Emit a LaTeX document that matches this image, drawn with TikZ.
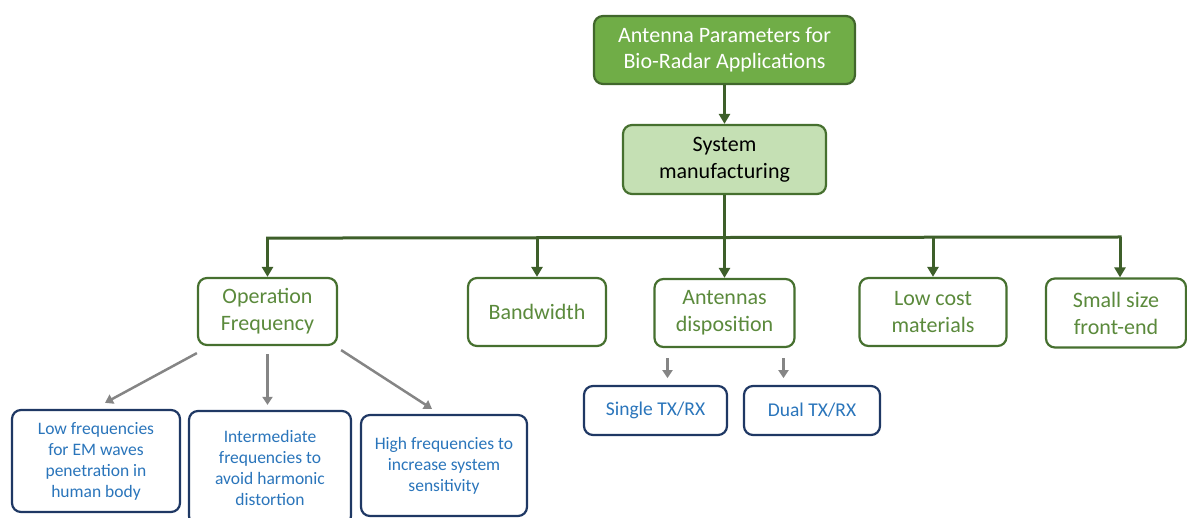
\documentclass[tikz,border=0pt]{standalone}
\usepackage{fontspec}
\setmainfont{Carlito}
\usetikzlibrary{arrows.meta,calc}
\definecolor{topfill}{HTML}{70AD47}
\definecolor{topdraw}{HTML}{41672C}
\definecolor{dkgreen}{HTML}{46702F}
\definecolor{lightfill}{HTML}{C5E0B4}
\definecolor{midgreen}{HTML}{5B8A3C}
\definecolor{linegreen}{HTML}{3E5F2A}
\definecolor{navy}{HTML}{1F3864}
\definecolor{txtblue}{HTML}{2A75BB}
\definecolor{arrgray}{HTML}{858585}
\begin{document}
\begin{tikzpicture}[x=1pt,y=1pt,
 box/.style={draw, rounded corners=9pt, line width=2.2pt, align=center, inner sep=0pt},
 gbox/.style={box, draw=dkgreen, fill=white, text=midgreen, font=\fontsize{22}{27}\selectfont},
 bbox/.style={box, draw=navy, fill=white, text=txtblue, font=\fontsize{17.5}{21}\selectfont},
 garrow/.style={draw=linegreen, line width=3pt, -{Triangle[length=10pt,width=11pt]}},
 gline/.style={draw=linegreen, line width=3pt},
 grarrow/.style={draw=arrgray, line width=2.5pt, -{Triangle[length=8pt,width=10pt]}}]
\useasboundingbox (0,0) rectangle (1187,-518);
% top levels
\node[box, draw=topdraw, fill=topfill, text=white, font=\fontsize{22}{26}\selectfont,
      minimum width=261pt, minimum height=68pt] (top) at (724.5,-50) {Antenna Parameters for\\Bio-Radar Applications};
\node[box, draw=dkgreen, fill=lightfill, text=black, font=\fontsize{22}{27}\selectfont,
      minimum width=203pt, minimum height=69pt] (sys) at (724.5,-159.5) {System\\manufacturing};
% second level
\node[gbox, minimum width=139pt, minimum height=67pt] (opf) at (267.5,-311.5) {Operation\\Frequency};
\node[gbox, minimum width=138pt, minimum height=68pt] (bw) at (537,-312) {Bandwidth};
\node[gbox, minimum width=140pt, minimum height=68pt] (ant) at (724.5,-313) {Antennas\\disposition};
\node[gbox, minimum width=147pt, minimum height=68pt] (low) at (933,-312) {Low cost\\materials};
\node[gbox, minimum width=140pt, minimum height=69pt] (small) at (1116,-313) {Small size\\front-end};
% third level
\node[bbox, minimum width=168pt, minimum height=102pt] (lf) at (96,-461) {Low frequencies\\for EM waves\\penetration in\\human body};
\node[bbox, minimum width=162pt, minimum height=114pt] (imf) at (270,-468) {Intermediate\\frequencies to\\avoid harmonic\\distortion};
\node[bbox, minimum width=166pt, minimum height=101pt] (hf) at (444,-465.5) {High frequencies to\\increase system\\sensitivity};
\node[box, draw=navy, fill=white, text=txtblue, font=\fontsize{19.5}{23}\selectfont,
      minimum width=143pt, minimum height=49pt] (single) at (655.5,-410.5) {Single TX/RX};
\node[box, draw=navy, fill=white, text=txtblue, font=\fontsize{19.5}{23}\selectfont,
      minimum width=136pt, minimum height=49pt] (dual) at (812,-410.5) {Dual TX/RX};
% green connectors
\draw[garrow] (top) -- (sys);
\coordinate (j) at ($(sys.south)+(0,-43)$);
\draw[gline] (sys.south) -- (j);
\coordinate (jl) at (j -| opf.north);
\coordinate (jr) at (1120,-237);
\draw[gline, line cap=rect] (jl) -- (jr);
\draw[garrow] (jl) -- (opf.north);
\draw[garrow] (j -| bw.north) -- (bw.north);
\draw[garrow] (j) -- (ant.north);
\draw[garrow] (j -| low.north) -- (low.north);
\draw[garrow] (jr) -- (jr |- small.north);
% gray arrows
\draw[grarrow] ([shift={(0,-7)}]opf.south west) -- ([shift={(9,6)}]lf.north);
\draw[grarrow] ([shift={(0,-8)}]opf.south) -- ([shift={(0,5)}]opf.south |- imf.north);
\draw[grarrow] ([shift={(3,-4)}]opf.south east) -- ([shift={(-12,5)}]hf.north);
\draw[grarrow] ([shift={(-57,-10)}]ant.south) -- ([shift={(-57,-30)}]ant.south);
\draw[grarrow] ([shift={(59,-10)}]ant.south) -- ([shift={(59,-30)}]ant.south);
\end{tikzpicture}
\end{document}
